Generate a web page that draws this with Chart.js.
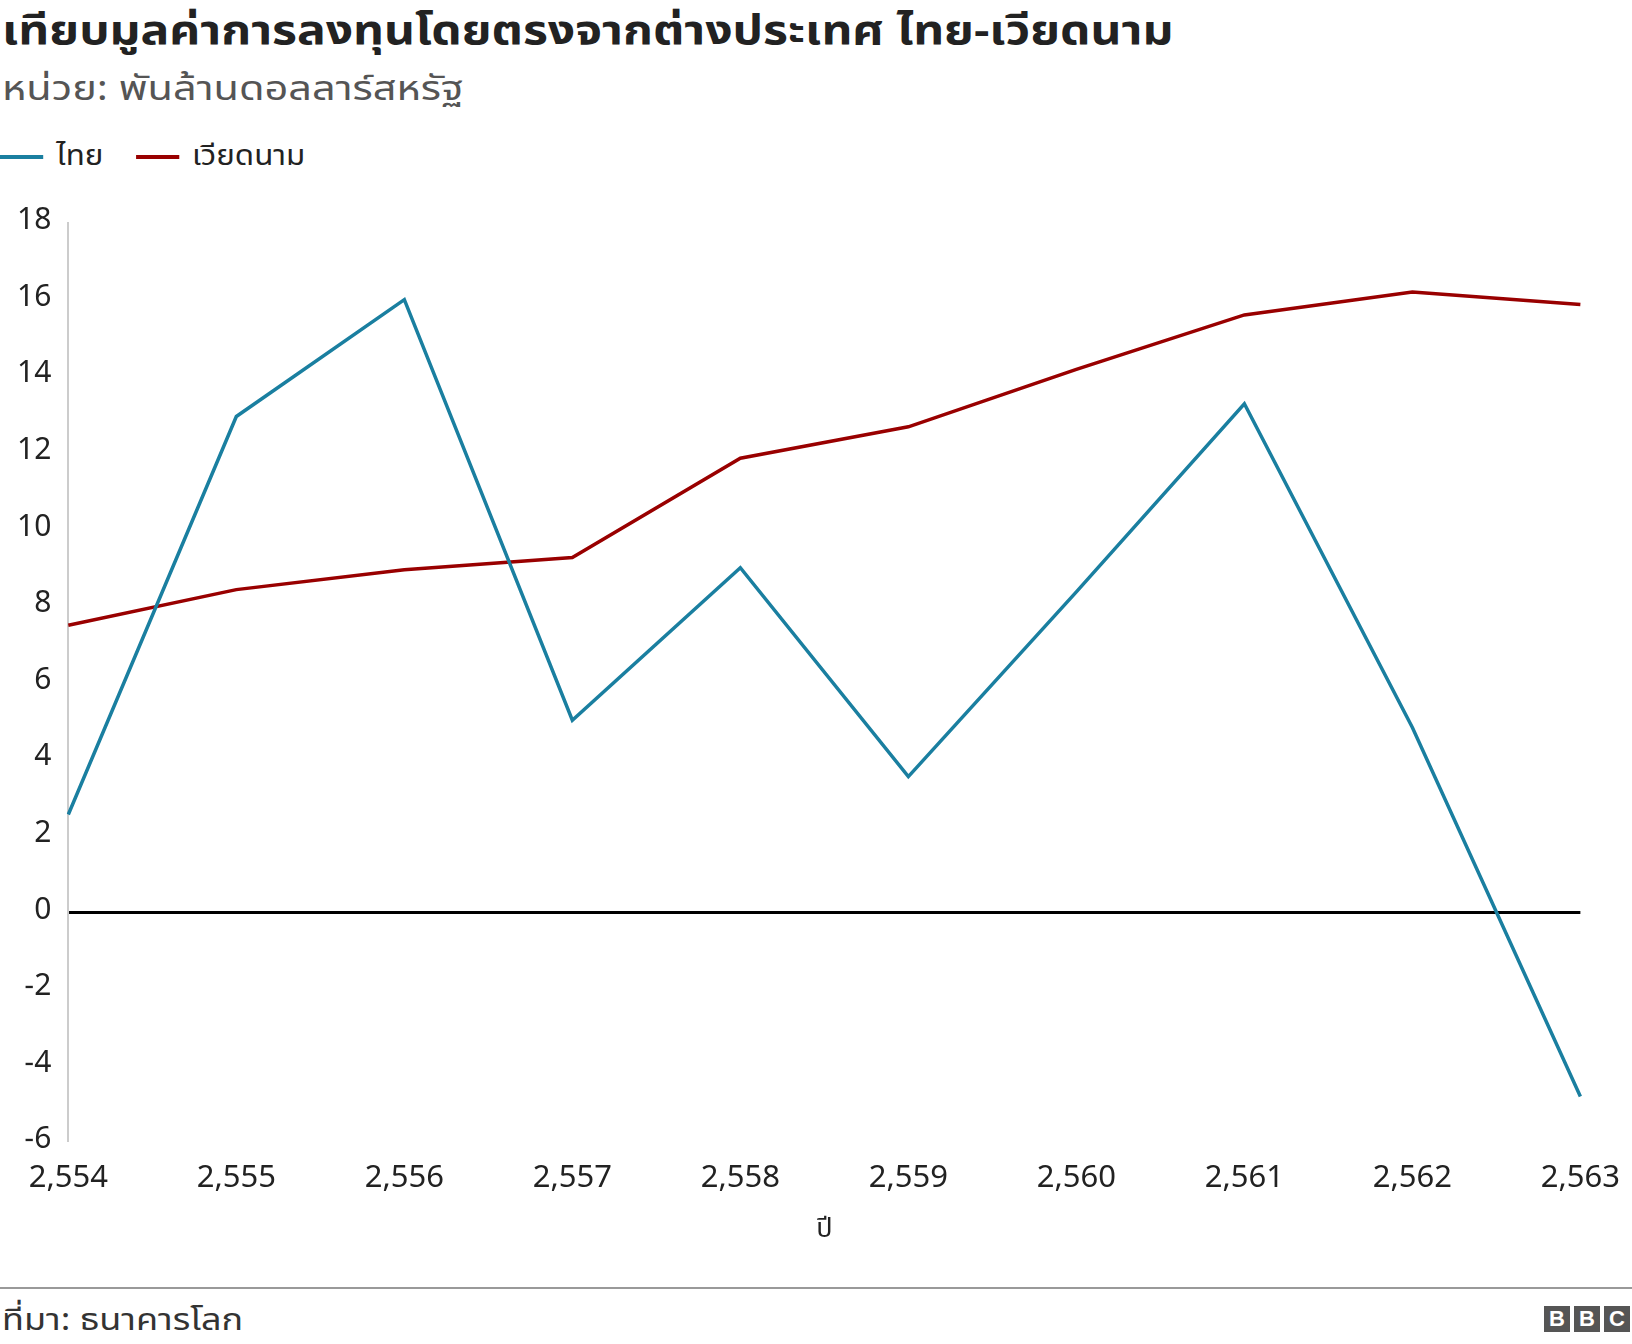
<!DOCTYPE html>
<html><head><meta charset="utf-8">
<script src="https://cdn.jsdelivr.net/npm/chart.js@4"></script>
<style>
body{margin:0;width:1632px;height:1344px;background:#fff;font-family:'Noto Sans Thai','Noto Sans',sans-serif;position:relative;overflow:hidden}
.sx{transform-origin:0 0;display:inline-block;white-space:nowrap}
#t{position:absolute;left:2px;top:2px;font-size:40px;font-weight:bold;color:#222;transform:scaleX(1.2)}
#s{position:absolute;left:2px;top:64px;font-size:34px;color:#555;transform:scaleX(1.22)}
#lg{position:absolute;left:0;top:134px;font-size:29px;color:#222;display:flex;gap:30px;transform:scaleX(1.08)}
#lg span i{display:inline-block;width:40px;height:4px;vertical-align:middle;margin-right:12px}
#wrap{position:absolute;left:0;top:188px;width:1632px;height:1064px}
#line{position:absolute;left:0;top:1287px;width:1632px;height:2px;background:#999}
#src{position:absolute;left:2px;top:1298px;font-size:30px;color:#333;transform:scaleX(1.2)}
#bbc{position:absolute;right:2px;top:1306px;display:flex;gap:4px}
#bbc b{display:inline-block;width:26px;height:26px;background:#555;color:#fff;font:bold 22px 'Liberation Sans',sans-serif;text-align:center;line-height:26px}
</style></head><body>
<div id="t" class="sx">เทียบมูลค่าการลงทุนโดยตรงจากต่างประเทศ ไทย-เวียดนาม</div>
<div id="s" class="sx">หน่วย: พันล้านดอลลาร์สหรัฐ</div>
<div id="lg" class="sx"><span><i style="background:#1a7fa0"></i>ไทย</span><span><i style="background:#990000"></i>เวียดนาม</span></div>
<div id="wrap"><canvas id="c"></canvas></div>
<div id="line"></div>
<div id="src" class="sx">ที่มา: ธนาคารโลก</div>
<div id="bbc"><b>B</b><b>B</b><b>C</b></div>
<script>
const years=['2,554','2,555','2,556','2,557','2,558','2,559','2,560','2,561','2,562','2,563'];
const thailand=[2.56,12.95,16.0,5.02,9.0,3.55,8.37,13.28,4.83,-4.8];
const vietnam=[7.5,8.43,8.95,9.27,11.86,12.68,14.18,15.6,16.2,15.87];
const font="'Noto Sans Thai','Noto Sans',sans-serif";
new Chart(document.getElementById('c'),{type:'line',
data:{labels:years,datasets:[
{label:'ไทย',data:thailand,borderColor:'#1a7fa0',borderWidth:3.5,pointRadius:0,tension:0},
{label:'เวียดนาม',data:vietnam,borderColor:'#990000',borderWidth:3.5,pointRadius:0,tension:0}]},
options:{responsive:true,maintainAspectRatio:false,animation:false,
layout:{padding:{left:0,right:0,top:10}},
plugins:{legend:{display:false},tooltip:{enabled:false}},
scales:{
x:{offset:false,grid:{display:false},border:{display:false},
ticks:{color:'#222',font:{family:font,size:31},maxRotation:0,padding:12},
title:{display:true,text:'ปี',color:'#222',font:{family:font,size:27}}},
y:{min:-6,max:18,ticks:{stepSize:2,color:'#222',font:{family:font,size:30},padding:17,
callback:v=>v<0?'\u2212'+Math.abs(v):v},
border:{display:true,color:'#ccc',width:2},
grid:{drawTicks:false,lineWidth:c=>c.tick&&c.tick.value===0?3:0,color:c=>c.tick&&c.tick.value===0?'#000':'rgba(0,0,0,0)'}}}}});
</script></body></html>
